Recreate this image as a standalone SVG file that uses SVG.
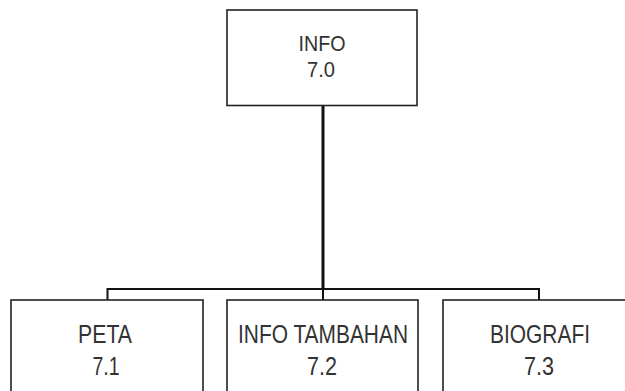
<svg xmlns="http://www.w3.org/2000/svg" width="625" height="391" viewBox="0 0 625 391">
<style>
.box{fill:#fff;stroke:#222;stroke-width:1.6}
.t{font-family:"Liberation Sans",Arial,sans-serif;fill:#333;text-anchor:middle}
.top{font-size:22px}
.bot{font-size:25px}
.conn{fill:none;stroke:#111;stroke-width:2}
</style>
<rect width="625" height="391" fill="#fff"/>
<g id="connectors">
<line class="conn" x1="323" y1="106" x2="323" y2="289" style="stroke-width:3"/>
<polyline class="conn" points="107.5,300 107.5,289 539,289 539,300"/>
<line class="conn" x1="323" y1="289" x2="323" y2="300"/>
</g>
<g id="n70">
<rect class="box" x="227" y="10" width="190" height="95.5"/>
<text class="t top" x="322" y="50.5" textLength="47" lengthAdjust="spacingAndGlyphs">INFO</text>
<text class="t top" x="321" y="77" textLength="28" lengthAdjust="spacingAndGlyphs">7.0</text>
</g>
<g id="n71">
<rect class="box" x="11" y="300" width="192" height="100"/>
<text class="t bot" x="105" y="343" textLength="54" lengthAdjust="spacingAndGlyphs">PETA</text>
<text class="t bot" x="106" y="375" textLength="27" lengthAdjust="spacingAndGlyphs">7.1</text>
</g>
<g id="n72">
<rect class="box" x="227" y="300" width="191" height="100"/>
<text class="t bot" x="323" y="343" textLength="170" lengthAdjust="spacingAndGlyphs">INFO TAMBAHAN</text>
<text class="t bot" x="322" y="375" textLength="30" lengthAdjust="spacingAndGlyphs">7.2</text>
</g>
<g id="n73">
<rect class="box" x="443" y="300" width="192" height="100"/>
<text class="t bot" x="540" y="343" textLength="100" lengthAdjust="spacingAndGlyphs">BIOGRAFI</text>
<text class="t bot" x="539" y="375" textLength="30" lengthAdjust="spacingAndGlyphs">7.3</text>
</g>
</svg>
